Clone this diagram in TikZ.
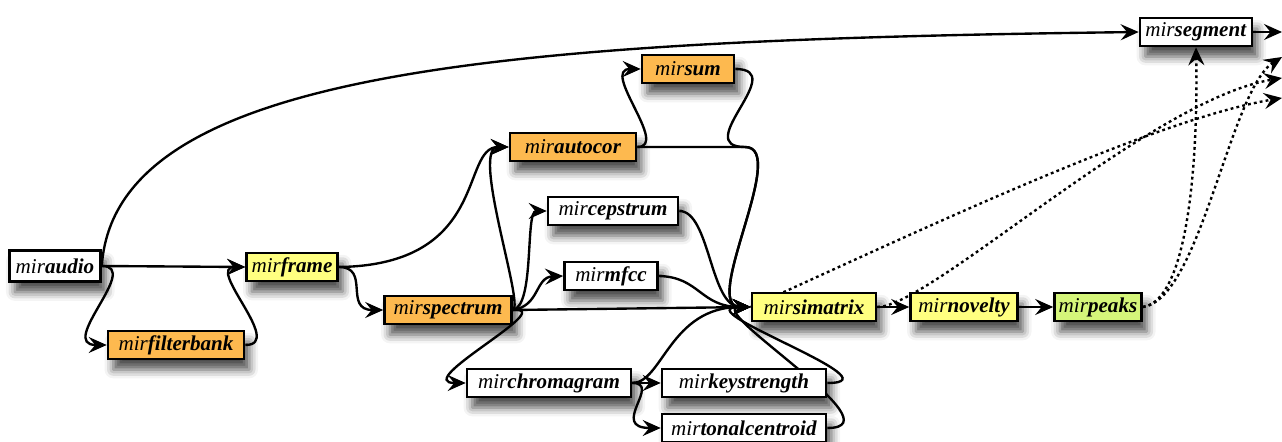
\documentclass[tikz,border=0pt]{standalone}
\usepackage{fontspec}
\setmainfont{Liberation Serif}
\usetikzlibrary{arrows.meta,backgrounds,shadows.blur}
\definecolor{mirorange}{HTML}{FDB94F}
\definecolor{miryellow}{HTML}{FFFF80}
\definecolor{mirgreen}{HTML}{D5F57A}
\tikzset{
  mod/.style={draw=black,line width=1.5pt,fill=white,minimum height=5.6mm,inner sep=1pt,
    font=\fontsize{12}{14}\selectfont,
    blur shadow={shadow xshift=3pt,shadow yshift=-6pt,shadow blur radius=5pt,shadow opacity=70}},
  flow/.style={-{Stealth[length=3.6mm,width=3.2mm,inset=1.3mm]},line width=1.35pt},
  dotflow/.style={flow,dash pattern=on 1.6pt off 1.8pt}
}
\newcommand{\mir}[1]{\textit{mir}\textbf{\textit{#1}}}

\begin{document}
\begin{tikzpicture}[x=0.02cm,y=-0.02cm]
\useasboundingbox (0,0) rectangle (1282,442);
% modules
\node[mod,minimum width=18.2mm,minimum height=6.2mm] (audio) at (55,266) {\mir{audio}};
\node[mod,fill=mirorange,minimum width=27.2mm] (filterbank) at (176,345) {\mir{filterbank}};
\node[mod,fill=miryellow,minimum width=18.2mm] (frame) at (292,267) {\mir{frame}};
\node[mod,fill=mirorange,minimum width=25.4mm] (spectrum) at (448,310) {\mir{spectrum}};
\node[mod,fill=mirorange,minimum width=25.2mm] (autocor) at (573,147) {\mir{autocor}};
\node[mod,fill=mirorange,minimum width=18.4mm] (sum) at (688,69) {\mir{sum}};
\node[mod,minimum width=26mm] (cepstrum) at (613,211) {\mir{cepstrum}};
\node[mod,minimum width=18.6mm] (mfcc) at (611,276) {\mir{mfcc}};
\node[mod,minimum width=32.8mm] (chromagram) at (549,383) {\mir{chromagram}};
\node[mod,minimum width=32.8mm] (keystrength) at (744,383) {\mir{keystrength}};
\node[mod,minimum width=32.8mm] (tonalcentroid) at (744,428) {\mir{tonalcentroid}};
\node[mod,fill=miryellow,minimum width=24.8mm] (simatrix) at (814,307) {\mir{simatrix}};
\node[mod,fill=miryellow,minimum width=21.4mm] (novelty) at (964,307) {\mir{novelty}};
\node[mod,fill=mirgreen,minimum width=17.4mm] (peaks) at (1098,307) {\mir{peaks}};
\node[mod,minimum width=22.4mm] (segment) at (1196,32) {\mir{segment}};
% outputs leaving the picture
\coordinate (out1) at (1282,32);
\coordinate (out2) at (1282,57);
\coordinate (out3) at (1282,78);
\coordinate (out4) at (1282,98);
\begin{pgfonlayer}{background}
% solid flow
\draw[flow] (audio.east) .. controls (115,70) and (500,40) .. (segment.west);
\draw[flow] (audio.east) -- (frame.west);
\draw[flow] (audio.east) .. controls +(40,0) and +(-50,0) .. (filterbank.west);
\draw[flow] (filterbank.east) .. controls +(40,0) and +(-40,0) .. (frame.west);
\draw[flow] (frame.east) .. controls (490,265) and (460,147) .. (autocor.west);
\draw[flow] (frame.east) .. controls +(32,0) and +(-40,0) .. (spectrum.west);
\draw[flow] (spectrum.east) .. controls (525,306) and (470,147) .. (autocor.west);
\draw[flow] (spectrum.east) .. controls (535,306) and (525,211) .. (cepstrum.west);
\draw[flow] (spectrum.east) .. controls (540,306) and (535,277) .. (mfcc.west);
\draw[flow] (spectrum.east) -- (simatrix.west);
\draw[flow] (spectrum.east) .. controls (560,306) and (410,383) .. (chromagram.west);
\draw[flow] (autocor.east) .. controls (670,147) and (600,69) .. (sum.west);
\draw[flow] (autocor.east) -- (745,147) .. controls (790,147) and (700,307) .. (simatrix.west);
\draw[flow] (sum.east) .. controls +(55,0) and (690,147) .. (745,147)
  .. controls (790,147) and (700,307) .. (simatrix.west);
\draw[flow] (cepstrum.east) .. controls (710,211) and (710,307) .. (simatrix.west);
\draw[flow] (mfcc.east) .. controls (700,277) and (700,307) .. (simatrix.west);
\draw[flow] (chromagram.east) -- (keystrength.west);
\draw[flow] (chromagram.east) .. controls +(30,0) and +(-52,0) .. (tonalcentroid.west);
\draw[flow] (chromagram.east) .. controls +(30,0) and (670,307) .. (simatrix.west);
\draw[flow] (keystrength.east) .. controls +(74,0) and (680,307) .. (simatrix.west);
\draw[flow] (tonalcentroid.east) .. controls +(74,0) and (700,307) .. (simatrix.west);
\draw[flow] (simatrix.east) -- (novelty.west);
\draw[flow] (novelty.east) -- (peaks.west);
\draw[flow] (segment.east) -- (out1);
% dotted flow
\draw[dotflow] (simatrix.west) .. controls (900,240) and (1150,120) .. (out4);
\draw[dotflow] (simatrix.east) .. controls (930,307) and (1150,100) .. (out3);
\draw[dotflow] (peaks.east) .. controls (1190,300) and (1198,150) .. (segment.south);
\draw[dotflow] (peaks.east) .. controls (1200,300) and (1230,90) .. (out2);
\end{pgfonlayer}
\end{tikzpicture}
\end{document}
